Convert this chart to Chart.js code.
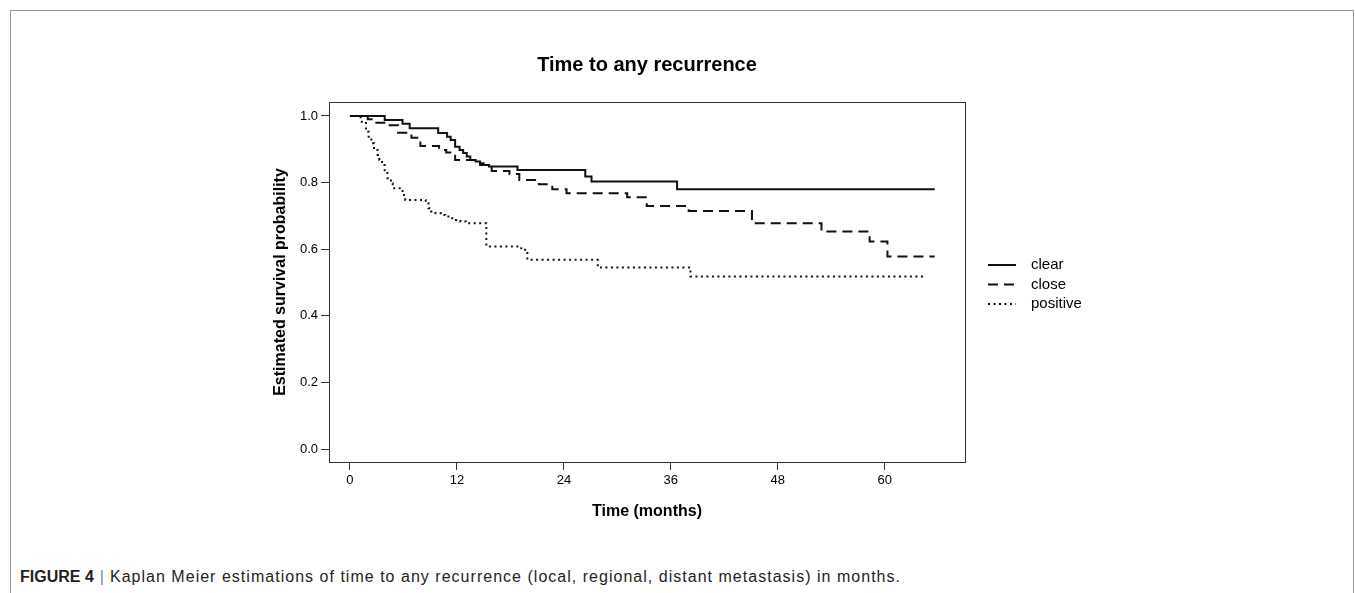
<!DOCTYPE html>
<html>
<head>
<meta charset="utf-8">
<script src="https://cdn.jsdelivr.net/npm/chart.js@4/dist/chart.umd.min.js"></script>
<style>
  body { margin: 0; background: #fff; width: 1355px; height: 593px; overflow: hidden; position: relative; font-family: Arial, "Liberation Sans", sans-serif; }
  #frame { position: absolute; left: 10px; top: 10px; width: 1342px; height: 700px; border: 1px solid #9a9a9a; border-bottom: none; }
  #wrap { position: absolute; left: 0; top: 0; width: 1355px; height: 540px; }
  #caption { position: absolute; left: 20px; top: 568px; font-size: 16px; color: #231f20; white-space: nowrap; }
  #caption b { font-weight: bold; }
  #caption .bar { color: #888; padding: 0 6px; }
  #caption .txt { letter-spacing: 1.02px; }
</style>
</head>
<body>
<div id="frame"></div>
<div id="wrap"><canvas id="km"></canvas></div>
<div id="caption"><b>FIGURE 4</b><span class="bar">|</span><span class="txt">Kaplan Meier estimations of time to any recurrence (local, regional, distant metastasis) in months.</span></div>
<script>
// series (months, estimated survival)
const groupNames = ['clear', 'close', 'positive'];

const clearTime = [0, 3.9, 5.9, 6.7, 9.9, 10.9, 11.3, 11.8, 12.3, 12.7, 13.1, 13.5, 14.1, 14.6, 15.0, 15.6, 18.8, 26.4, 27.1, 36.7, 65.6];
const clearSurv = [1, 0.988, 0.977, 0.963, 0.949, 0.938, 0.928, 0.908, 0.898, 0.889, 0.878, 0.868, 0.863, 0.858, 0.853, 0.848, 0.838, 0.818, 0.803, 0.780, 0.780];

const closeTime = [0, 2.0, 2.8, 4.1, 5.4, 6.9, 7.9, 10.0, 10.8, 11.8, 14.6, 15.9, 17.9, 19.0, 21.2, 22.7, 24.3, 31.1, 33.3, 38.0, 45.1, 52.9, 58.3, 60.3, 65.6];
const closeSurv = [1, 0.99, 0.98, 0.972, 0.95, 0.935, 0.91, 0.898, 0.89, 0.868, 0.853, 0.835, 0.826, 0.808, 0.795, 0.780, 0.768, 0.756, 0.730, 0.715, 0.678, 0.653, 0.623, 0.578, 0.578];

const posTime = [0, 1.2, 1.8, 2.1, 2.4, 2.7, 3.1, 3.3, 3.6, 3.9, 4.2, 4.6, 4.8, 5.9, 6.2, 8.5, 8.8, 9.1, 9.6, 10.2, 10.7, 11.3, 11.9, 12.4, 13.0, 15.3, 19.0, 19.5, 19.9, 27.8, 38.2, 64.5];
const posSurv = [1, 0.983, 0.953, 0.933, 0.918, 0.898, 0.883, 0.868, 0.853, 0.833, 0.813, 0.798, 0.783, 0.763, 0.748, 0.738, 0.723, 0.713, 0.708, 0.703, 0.698, 0.693, 0.688, 0.683, 0.678, 0.608, 0.603, 0.598, 0.568, 0.545, 0.518, 0.518];

const xTicks = [0, 12, 24, 36, 48, 60];
const yTicks = [0, 0.2, 0.4, 0.6, 0.8, 1.0];

function toPoints(t, s) {
  return t.map((v, i) => ({ x: v, y: s[i] }));
}

Chart.defaults.font.family = 'Arial, "Liberation Sans", sans-serif';
Chart.defaults.color = '#000';

// box around the plot area
const boxPlugin = {
  id: 'box',
  beforeDatasetsDraw(chart) {
    const a = chart.chartArea;
    const ctx = chart.ctx;
    ctx.save();
    ctx.strokeStyle = '#333';
    ctx.lineWidth = 1;
    ctx.strokeRect(a.left + 0.5, a.top + 0.5, a.right - a.left, a.bottom - a.top);
    ctx.restore();
  }
};

// legend to the right of the box, line samples + names
const sideLegend = {
  id: 'sideLegend',
  afterDraw(chart) {
    const a = chart.chartArea;
    const ctx = chart.ctx;
    ctx.save();
    chart.data.datasets.forEach((ds, i) => {
      const y = 265 + i * 19.5;
      const x0 = a.right + 23;
      ctx.strokeStyle = ds.borderColor;
      ctx.lineWidth = ds.borderWidth;
      ctx.setLineDash(ds.borderDash || []);
      ctx.beginPath();
      ctx.moveTo(x0, y);
      ctx.lineTo(x0 + 28, y);
      ctx.stroke();
      ctx.setLineDash([]);
      ctx.fillStyle = '#000';
      ctx.font = '15px Arial, "Liberation Sans", sans-serif';
      ctx.textAlign = 'left';
      ctx.textBaseline = 'middle';
      ctx.fillText(ds.label, x0 + 43, y);
    });
    ctx.restore();
  }
};

new Chart(document.getElementById('km'), {
  type: 'line',
  data: {
    datasets: [{
      label: groupNames[0],
      data: toPoints(clearTime, clearSurv),
      borderColor: '#111',
      borderWidth: 2,
      stepped: true,
      pointRadius: 0
    }, {
      label: groupNames[1],
      data: toPoints(closeTime, closeSurv),
      borderColor: '#111',
      borderWidth: 2,
      borderDash: [10, 6],
      stepped: true,
      pointRadius: 0
    }, {
      label: groupNames[2],
      data: toPoints(posTime, posSurv),
      borderColor: '#111',
      borderWidth: 2,
      borderDash: [2, 3.5],
      stepped: true,
      pointRadius: 0
    }]
  },
  options: {
    responsive: true,
    maintainAspectRatio: false,
    animation: false,
    layout: { padding: { left: 260, right: 390, top: 0, bottom: 8 } },
    plugins: {
      legend: { display: false },
      tooltip: { enabled: false },
      title: {
        display: true,
        text: 'Time to any recurrence',
        fullSize: false,
        font: { size: 20, weight: 'bold' },
        padding: { top: 53, bottom: 25 }
      }
    },
    scales: {
      x: {
        type: 'linear',
        min: -2.35,
        max: 69,
        afterFit(scale) { scale.height = 70; },
        afterBuildTicks(scale) { scale.ticks = xTicks.map(v => ({ value: v })); },
        border: { display: false },
        grid: { drawOnChartArea: false, drawTicks: true, tickLength: 8, color: '#333' },
        ticks: { font: { size: 13 }, padding: 3, maxRotation: 0, callback: v => String(v) },
        title: { display: true, text: 'Time (months)', font: { size: 16, weight: 'bold' }, padding: { top: 0, bottom: 10.4 } }
      },
      y: {
        type: 'linear',
        min: -0.039,
        max: 1.042,
        afterFit(scale) { scale.width = 69; },
        afterBuildTicks(scale) { scale.ticks = yTicks.map(v => ({ value: v })); },
        border: { display: false },
        grid: { drawOnChartArea: false, drawTicks: true, tickLength: 8, color: '#333' },
        ticks: { font: { size: 13 }, padding: 3, callback: v => v.toFixed(1) },
        title: { display: true, text: 'Estimated survival probability', font: { size: 16, weight: 'bold' }, padding: { top: 11, bottom: 0 } }
      }
    }
  },
  plugins: [boxPlugin, sideLegend]
});
</script>
</body>
</html>
